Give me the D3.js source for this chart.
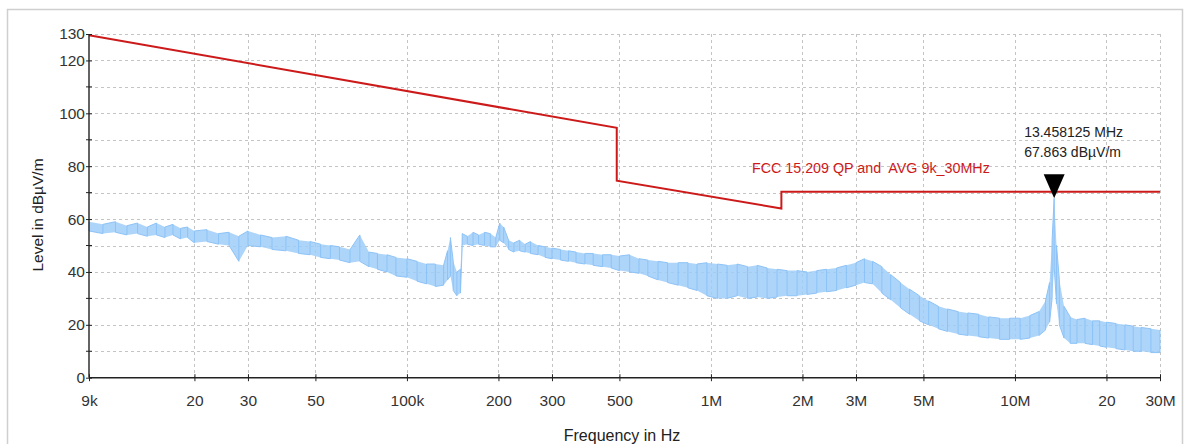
<!DOCTYPE html>
<html>
<head>
<meta charset="utf-8">
<script src="https://cdn.jsdelivr.net/npm/d3@7"></script>
<style>
  body { margin: 0; background: #fff; }
  text { font-family: "Liberation Sans", Arial, sans-serif; white-space: pre; }
</style>
</head>
<body>
<div id="chart"></div>
<script>
// limit line (FCC 15.209), frequency in kHz
var limitFreq = [9, 490, 490, 1705, 1705, 30000];
var limitLevel = [129.5, 94.5, 74.5, 64, 70.3, 70.3];

// measured trace: upper / lower envelope, frequency in kHz
var traceFreq = [9, 10, 11, 12, 13, 14, 15, 16, 17, 18, 19, 20, 22, 24, 26, 28, 30, 33, 36, 40,
  44, 48, 52, 56, 60, 65, 70, 75, 80, 86, 92, 100, 108, 116, 124, 132, 136, 139, 142, 146,
  150, 152, 158, 165, 172, 180, 188, 196, 202, 208, 216, 225, 235, 245, 255, 270, 285, 300, 320, 340,
  360, 385, 410, 440, 470, 500, 540, 580, 620, 670, 720, 780, 840, 900, 970, 1050, 1130, 1220, 1320, 1420,
  1530, 1650, 1780, 1920, 2070, 2230, 2400, 2590, 2790, 3000, 3200, 3400, 3650, 3900, 4200, 4500, 4850, 5200, 5600, 6000,
  6500, 7000, 7600, 8200, 8900, 9600, 10400, 11200, 12000, 12600, 13000, 13250, 13458.125, 13700, 14000, 14500, 15200, 16000, 17000, 18000,
  19000, 20000, 21500, 23000, 24500, 26000, 28000, 30000];
var traceHi = [59, 58, 59, 57.5, 58.5, 57, 58.5, 57, 58, 56.5, 57, 55.5, 56, 54.5, 55, 53.5, 55.5, 54, 53, 53.5,
  52, 51.5, 50.5, 50, 49.5, 48.5, 54, 47.5, 47, 46.5, 45.5, 45, 44, 43, 43, 42.5, 48, 53, 44, 40,
  41, 54.5, 53.5, 55, 54, 55, 54.5, 53, 58.5, 57, 52, 51, 52, 50.5, 51.5, 50, 49.5, 49, 48.5, 48,
  47.5, 47, 47, 46.5, 46.5, 46, 46.5, 45, 44.5, 44, 43.5, 43.5, 43.5, 43, 43.5, 43, 42.5, 43, 42, 42.5,
  41.5, 41, 40.5, 40.5, 40, 40.5, 41, 41.5, 42.5, 43.5, 45, 44, 42, 39, 36, 33.5, 31, 29, 27, 26,
  25, 24.5, 24, 23, 22.5, 22.5, 22.5, 23.5, 25, 29, 36, 52, 67.863, 50, 37, 27, 23, 22, 22.5, 21.5,
  21.5, 21, 20.5, 20, 19.5, 19, 18.5, 18];
var traceLo = [55.5, 54.5, 55, 54, 54.5, 53.5, 54, 53, 54, 52.5, 53, 51, 51.5, 50.5, 50, 44, 50, 49.5, 48.5, 48,
  47, 46.5, 45.5, 45, 44.5, 43.5, 44, 42, 41, 40, 38.5, 38, 36.5, 35.5, 34.5, 35, 37, 38.5, 33, 31,
  32, 50, 50.5, 50, 50.5, 50, 49.5, 49.5, 52, 51, 48.5, 47.5, 48, 47.5, 47, 46.5, 45.5, 45, 44.5, 44,
  43.5, 43, 42.5, 42, 41.5, 40.5, 40, 39.5, 38.5, 37, 36, 35, 34, 33, 31, 30, 30, 31, 30, 30.5,
  30, 30.5, 31, 31, 31.5, 32, 32.5, 33, 34, 35, 36, 35.5, 32, 29.5, 26.5, 24, 21.5, 20, 18.5, 17.5,
  16.5, 16, 15.5, 15, 14.5, 14.5, 14.5, 15, 16, 18, 21, 30, 42, 28, 20, 15, 13, 13, 13, 12.5,
  12, 11.5, 11, 10.5, 10, 10, 9.5, 9.5];

var xTicks = [9, 20, 30, 50, 100, 200, 300, 500, 1000, 2000, 3000, 5000, 10000, 20000, 30000];
var xTickLabels = ["9k", "20", "30", "50", "100k", "200", "300", "500", "1M", "2M", "3M", "5M", "10M", "20", "30M"];
var yTicks = [0, 20, 40, 60, 80, 100, 120, 130];
var yMinorTicks = [10, 30, 50, 70, 90, 110];
var yGrid = [10, 20, 30, 40, 50, 60, 70, 80, 90, 100, 110, 120, 130];

var markerFreq = 13458.125, markerLevel = 67.863;
var markerText = ["13.458125 MHz", "67.863 dBµV/m"];
var limitLabel = "FCC 15.209 QP and  AVG 9k_30MHz";

var W = 1187, H = 444;
var margin = {top: 34, right: 27, bottom: 66.3, left: 89},
    width = W - margin.left - margin.right,
    height = H - margin.top - margin.bottom;

var root = d3.select("#chart").append("svg")
    .attr("width", W)
    .attr("height", H);

// outer frame
root.append("rect")
    .attr("x", 7.5).attr("y", 9.5)
    .attr("width", 1175).attr("height", 440)
    .attr("fill", "none")
    .attr("stroke", "#cfcfcf")
    .attr("stroke-width", 1.5);

var svg = root.append("g")
    .attr("transform", "translate(" + margin.left + "," + margin.top + ")");

var x = d3.scaleLog().domain([9, 30000]).range([0, width]);
var y = d3.scaleLinear().domain([0, 130]).range([height, 0]);

// grid
svg.append("g").selectAll("line")
    .data(yGrid)
    .enter().append("line")
    .attr("x1", 0).attr("x2", width)
    .attr("y1", function(d) { return Math.round(y(d)) + 0.5; })
    .attr("y2", function(d) { return Math.round(y(d)) + 0.5; })
    .attr("stroke", "#c4c4c4")
    .attr("stroke-dasharray", "3,3");

svg.append("g").selectAll("line")
    .data(xTicks.slice(1))
    .enter().append("line")
    .attr("y1", 0).attr("y2", height)
    .attr("x1", function(d) { return Math.round(x(d)) + 0.5; })
    .attr("x2", function(d) { return Math.round(x(d)) + 0.5; })
    .attr("stroke", "#c4c4c4")
    .attr("stroke-dasharray", "3,3");

// trace band + zigzag
var band = traceFreq.map(function(f, i) { return {f: f, hi: traceHi[i], lo: traceLo[i]}; });

svg.append("path")
    .datum(band)
    .attr("fill", "#9fcdf8")
    .attr("fill-opacity", 0.85)
    .attr("d", d3.area()
        .x(function(d) { return x(d.f); })
        .y0(function(d) { return y(d.lo); })
        .y1(function(d) { return y(d.hi); }));

var zig = [];
band.forEach(function(d, i) {
  if (i % 2 === 0) { zig.push([d.f, d.hi]); zig.push([d.f, d.lo]); }
  else { zig.push([d.f, d.lo]); zig.push([d.f, d.hi]); }
});

svg.append("path")
    .datum(zig)
    .attr("fill", "none")
    .attr("stroke", "#8dc3f7")
    .attr("stroke-width", 1)
    .attr("d", d3.line()
        .x(function(d) { return x(d[0]); })
        .y(function(d) { return y(d[1]); }));

// limit line
svg.append("path")
    .datum(limitFreq.map(function(f, i) { return [f, limitLevel[i]]; }))
    .attr("fill", "none")
    .attr("stroke", "#cc1a1a")
    .attr("stroke-width", 2)
    .attr("d", d3.line()
        .x(function(d) { return x(d[0]); })
        .y(function(d) { return y(d[1]); }));

svg.append("text")
    .attr("x", x(1000) + 41)
    .attr("y", y(70.3) - 19)
    .attr("fill", "#cc1a1a")
    .attr("font-size", "14.3px")
    .text(limitLabel);

// axes
var yAxis = svg.append("g")
    .call(d3.axisLeft(y).tickValues(yTicks).tickSize(3).tickPadding(1).tickFormat(d3.format("d")));
yAxis.selectAll(".tick line").attr("x2", -3).attr("x1", 3);
svg.append("g").selectAll("line")
    .data(yMinorTicks)
    .enter().append("line")
    .attr("x1", -3).attr("x2", 3)
    .attr("y1", function(d) { return y(d); })
    .attr("y2", function(d) { return y(d); })
    .attr("stroke", "#222");

var xAxis = svg.append("g")
    .attr("transform", "translate(0," + height + ")")
    .call(d3.axisBottom(x).tickValues(xTicks).tickSize(3).tickPadding(14)
        .tickFormat(function(d, i) { return xTickLabels[i]; }));
xAxis.selectAll(".tick line").attr("y1", -3.5).attr("y2", 3.5);

[yAxis, xAxis].forEach(function(a) {
  a.select(".domain").attr("stroke", "#222").attr("stroke-width", 1.4);
  a.selectAll(".tick line").attr("stroke", "#222");
  a.selectAll(".tick text").attr("fill", "#333").attr("font-size", "15.5px")
      .attr("font-family", "'Liberation Sans', Arial, sans-serif");
});
yAxis.select(".domain").attr("d", "M0," + height + "V0");
xAxis.select(".domain").attr("d", "M0,0H" + width);

// marker
var mx = x(markerFreq), my = y(markerLevel);
svg.append("path")
    .attr("d", "M" + (mx - 10.5) + "," + (my - 24) + "L" + (mx + 10.5) + "," + (my - 24) + "L" + mx + "," + my + "Z")
    .attr("fill", "#000");

svg.append("g").selectAll("text")
    .data(markerText)
    .enter().append("text")
    .attr("x", mx - 30)
    .attr("y", function(d, i) { return my - 61 + i * 20; })
    .attr("fill", "#222")
    .attr("font-size", "14px")
    .text(function(d) { return d; });

// axis titles
root.append("text")
    .attr("transform", "translate(43,215) rotate(-90)")
    .attr("text-anchor", "middle")
    .attr("fill", "#222")
    .attr("font-size", "15.5px")
    .text("Level in dBµV/m");

root.append("text")
    .attr("x", 622)
    .attr("y", 441)
    .attr("text-anchor", "middle")
    .attr("fill", "#222")
    .attr("font-size", "16px")
    .text("Frequency in Hz");
</script>
</body>
</html>
